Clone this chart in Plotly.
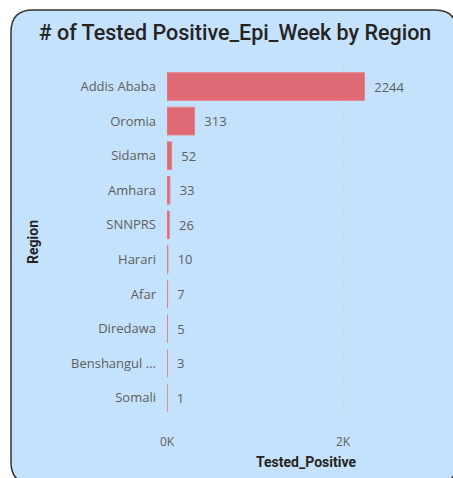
import plotly.graph_objects as go

regions = ["Addis Ababa", "Oromia", "Sidama", "Amhara", "SNNPRS", "Harari", "Afar",
           "Diredawa", "Benshangul ...", "Somali"]
tested_positive = [2244, 313, 52, 33, 26, 10, 7, 5, 3, 1]
x_ticks = [0, 2000]
x_tick_labels = ["0K", "2K"]

W, H = 453, 478
L, R, T, B = 167, 8, 63, 57
pw = W - L - R
ph = H - T - B

def px(x):
    return (x - L) / pw

def py(y):
    return (H - B - y) / ph

# card rectangle in pixels
x0, y0, x1, y1, r = 11, 10, 457, 484, 22
path = (
    f"M {px(x0 + r)},{py(y0)} L {px(x1 - r)},{py(y0)} "
    f"Q {px(x1)},{py(y0)} {px(x1)},{py(y0 + r)} "
    f"L {px(x1)},{py(y1 - r)} Q {px(x1)},{py(y1)} {px(x1 - r)},{py(y1)} "
    f"L {px(x0 + r)},{py(y1)} Q {px(x0)},{py(y1)} {px(x0)},{py(y1 - r)} "
    f"L {px(x0)},{py(y0 + r)} Q {px(x0)},{py(y0)} {px(x0 + r)},{py(y0)} Z"
)

fig = go.Figure(go.Bar(
    x=tested_positive, y=regions, orientation="h",
    marker=dict(color="#E06A74", line=dict(width=1, color="#E38089")),
    text=["  " + str(v) for v in tested_positive], textposition="outside",
    textfont=dict(family="Open Sans", size=13, color="#605E5C"),
    cliponaxis=False, width=0.8,
))

fig.update_layout(
    width=W, height=H,
    margin=dict(l=L, r=R, t=T, b=B),
    paper_bgcolor="white", plot_bgcolor="rgba(0,0,0,0)",
    showlegend=False,
    shapes=[dict(type="path", xref="paper", yref="paper", path=path,
                 fillcolor="#C5E2FC", line=dict(color="#333333", width=1.5),
                 layer="below")],
    title=dict(text="# of Tested Positive_Epi_Week by Region",
               x=235 / W, xref="container", xanchor="center",
               y=1 - 32 / H, yref="container", yanchor="middle",
               font=dict(family="Roboto", size=21.5, weight=500, color="#252423")),
    xaxis=dict(range=[0, pw / 0.088], tickvals=x_ticks, ticktext=x_tick_labels,
               showgrid=True, gridcolor="#D2D4D8", griddash="dot", gridwidth=1,
               zeroline=False, showline=False, ticks="", ticklabelstandoff=12,
               tickfont=dict(family="Open Sans", size=12, color="#605E5C"),
               title=dict(text="<b>Tested_Positive</b>", standoff=8,
                          font=dict(family="Roboto", size=14, color="#252423"))),
    yaxis=dict(categoryorder="array", categoryarray=regions,
               range=[9.67, -0.68], showgrid=False, zeroline=False,
               ticks="", ticklabelstandoff=10,
               tickfont=dict(family="Open Sans", size=13, color="#605E5C"),
               title=dict(text="<b>Region</b>", standoff=29,
                          font=dict(family="Roboto", size=14, color="#252423"))),
    bargap=0.19,
)

fig.write_html("out.html", config={"displayModeBar": False},
               post_script="document.body.style.margin='0';")
